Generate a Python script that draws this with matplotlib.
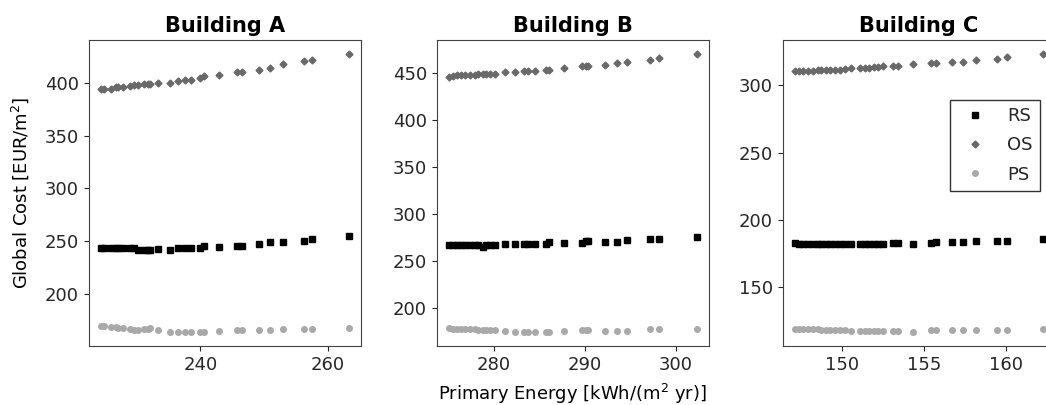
import numpy as np
from matplotlib import pyplot as plt
from matplotlib.ticker import MultipleLocator

# Building A
pe_a = [224.4, 224.9, 226.0, 226.7, 227.1, 227.9, 228.9, 229.5, 230.2, 231.2, 231.7, 232.1, 233.4, 235.2,
        236.5, 237.6, 238.5, 240.0, 240.6, 243.0, 245.8, 246.5, 249.2, 250.9, 253.0, 256.3, 257.6, 263.3]
rs_a = [243.4, 243.4, 243.4, 243.4, 243.4, 243.4, 243.4, 243.4, 242.2, 242.0, 242.2, 242.2, 242.8, 241.8,
        243.4, 243.4, 243.4, 244.0, 245.3, 244.9, 245.9, 245.9, 247.5, 249.3, 249.3, 250.5, 251.8, 255.0]
os_a = [394.3, 394.3, 394.5, 395.5, 395.9, 396.2, 397.0, 397.4, 397.6, 398.4, 398.7, 398.8, 399.6, 400.0,
        401.5, 402.8, 402.8, 404.4, 406.3, 407.2, 410.0, 410.0, 412.5, 414.4, 417.3, 420.1, 421.7, 427.3]
ps_a = [169.4, 169.4, 168.5, 168.5, 168.2, 167.9, 167.0, 166.3, 166.3, 167.0, 167.3, 167.9, 166.3, 164.1,
        164.1, 164.1, 164.1, 164.1, 164.3, 165.4, 166.0, 166.0, 165.7, 165.7, 167.0, 167.0, 167.0, 167.9]

# Building B
pe_b = [275.1, 275.5, 276.0, 276.4, 276.9, 277.4, 277.9, 278.3, 278.8, 279.2, 279.6, 280.2, 281.2, 282.3,
        283.3, 283.8, 284.5, 285.8, 286.1, 287.7, 289.7, 290.1, 290.4, 292.2, 293.5, 294.7, 297.2, 298.2, 302.3]
rs_b = [267.3, 267.3, 267.3, 267.3, 267.3, 267.3, 267.3, 267.3, 265.5, 267.3, 267.3, 267.3, 268.0, 268.0,
        268.0, 268.0, 268.0, 268.6, 270.1, 269.4, 269.4, 271.1, 271.1, 270.4, 270.4, 272.2, 273.6, 273.6, 275.4]
os_b = [446.0, 447.5, 447.8, 448.0, 448.2, 448.3, 448.6, 449.0, 449.3, 449.3, 449.3, 449.3, 450.8, 450.8,
        452.2, 452.2, 452.2, 453.9, 453.9, 455.7, 457.5, 457.5, 457.5, 458.9, 460.7, 462.4, 464.2, 466.0, 470.6]
ps_b = [179.2, 178.1, 177.4, 177.4, 177.4, 178.1, 177.4, 176.3, 176.3, 176.3, 176.3, 176.3, 175.6, 174.5,
        174.5, 174.5, 174.5, 174.5, 174.5, 175.3, 176.3, 176.3, 176.3, 175.6, 175.6, 175.6, 177.4, 177.4, 177.4]

# Building C
pe_c = [147.1, 147.35, 147.6, 147.9, 148.2, 148.5, 148.7, 149.0, 149.25, 149.55, 149.85, 150.15, 150.55, 151.1,
        151.35, 151.6, 151.95, 152.2, 152.5, 153.1, 153.4, 154.3, 155.4, 155.7, 156.7, 157.4, 158.2, 159.45,
        160.05, 162.25]
rs_c = [182.3, 181.5, 181.5, 181.5, 181.5, 181.5, 181.5, 181.5, 181.5, 181.5, 181.5, 181.5, 182.0, 181.5,
        181.5, 181.5, 181.5, 181.5, 182.0, 182.3, 182.3, 181.8, 182.5, 183.0, 183.3, 183.3, 184.0, 184.3,
        184.3, 185.5]
os_c = [310.7, 310.7, 310.7, 310.7, 310.7, 311.2, 311.7, 311.7, 311.7, 311.7, 311.7, 312.2, 312.9, 313.1,
        313.1, 313.1, 313.6, 313.6, 314.6, 314.6, 314.6, 315.6, 316.6, 316.6, 317.6, 317.6, 318.6, 319.8,
        321.0, 323.5]
ps_c = [118.7, 118.7, 118.7, 118.5, 118.2, 118.2, 117.4, 117.4, 117.4, 117.4, 117.4, 117.4, 116.7, 116.7,
        116.7, 116.7, 116.7, 116.7, 116.7, 116.7, 116.7, 116.2, 117.4, 117.4, 117.4, 117.4, 117.4, 117.4,
        117.4, 118.7]

buildings = ['Building A', 'Building B', 'Building C']
series = [(pe_a, rs_a, os_a, ps_a), (pe_b, rs_b, os_b, ps_b), (pe_c, rs_c, os_c, ps_c)]
x_steps = [20, 10, 5]

plt.rcParams['text.color'] = '0.15'
plt.rcParams['xtick.color'] = '0.15'
plt.rcParams['ytick.color'] = '0.15'
plt.rcParams['axes.edgecolor'] = '0.25'

fig = plt.figure(figsize=(10.46, 4.05), dpi=100)
lefts = [0.0848, 0.4175, 0.7483]
# last panel runs past the right edge, like the cropped original
axs = [fig.add_axes([l, 0.1457, 0.2603, 0.7556]) for l in lefts]

for ax, name, (pe, rs, os_, ps), step in zip(axs, buildings, series, x_steps):
    ax.plot(pe, rs, 's', color='black', markersize=4, label='RS')
    ax.plot(pe, os_, 'D', color='dimgray', markersize=3.5, label='OS')
    ax.plot(pe, ps, 'o', color='darkgray', markersize=4, label='PS')
    ax.set_title(name, fontsize=15, fontweight='bold', color='black')
    ax.xaxis.set_major_locator(MultipleLocator(step))
    ax.yaxis.set_major_locator(MultipleLocator(50))
    ax.tick_params(labelsize=13)

axs[0].set_ylabel('Global Cost [EUR/m$^2$]', fontsize=13, labelpad=10)
axs[1].set_xlabel('Primary Energy [kWh/(m$^2$ yr)]', fontsize=13, labelpad=6)
leg = axs[2].legend(loc='upper right', bbox_to_anchor=(0.945, 0.804), borderaxespad=0,
                    fancybox=False, edgecolor='black', fontsize=13, labelspacing=0.62)
leg.get_frame().set_linewidth(1.0)

plt.savefig('out.png', dpi=100)
